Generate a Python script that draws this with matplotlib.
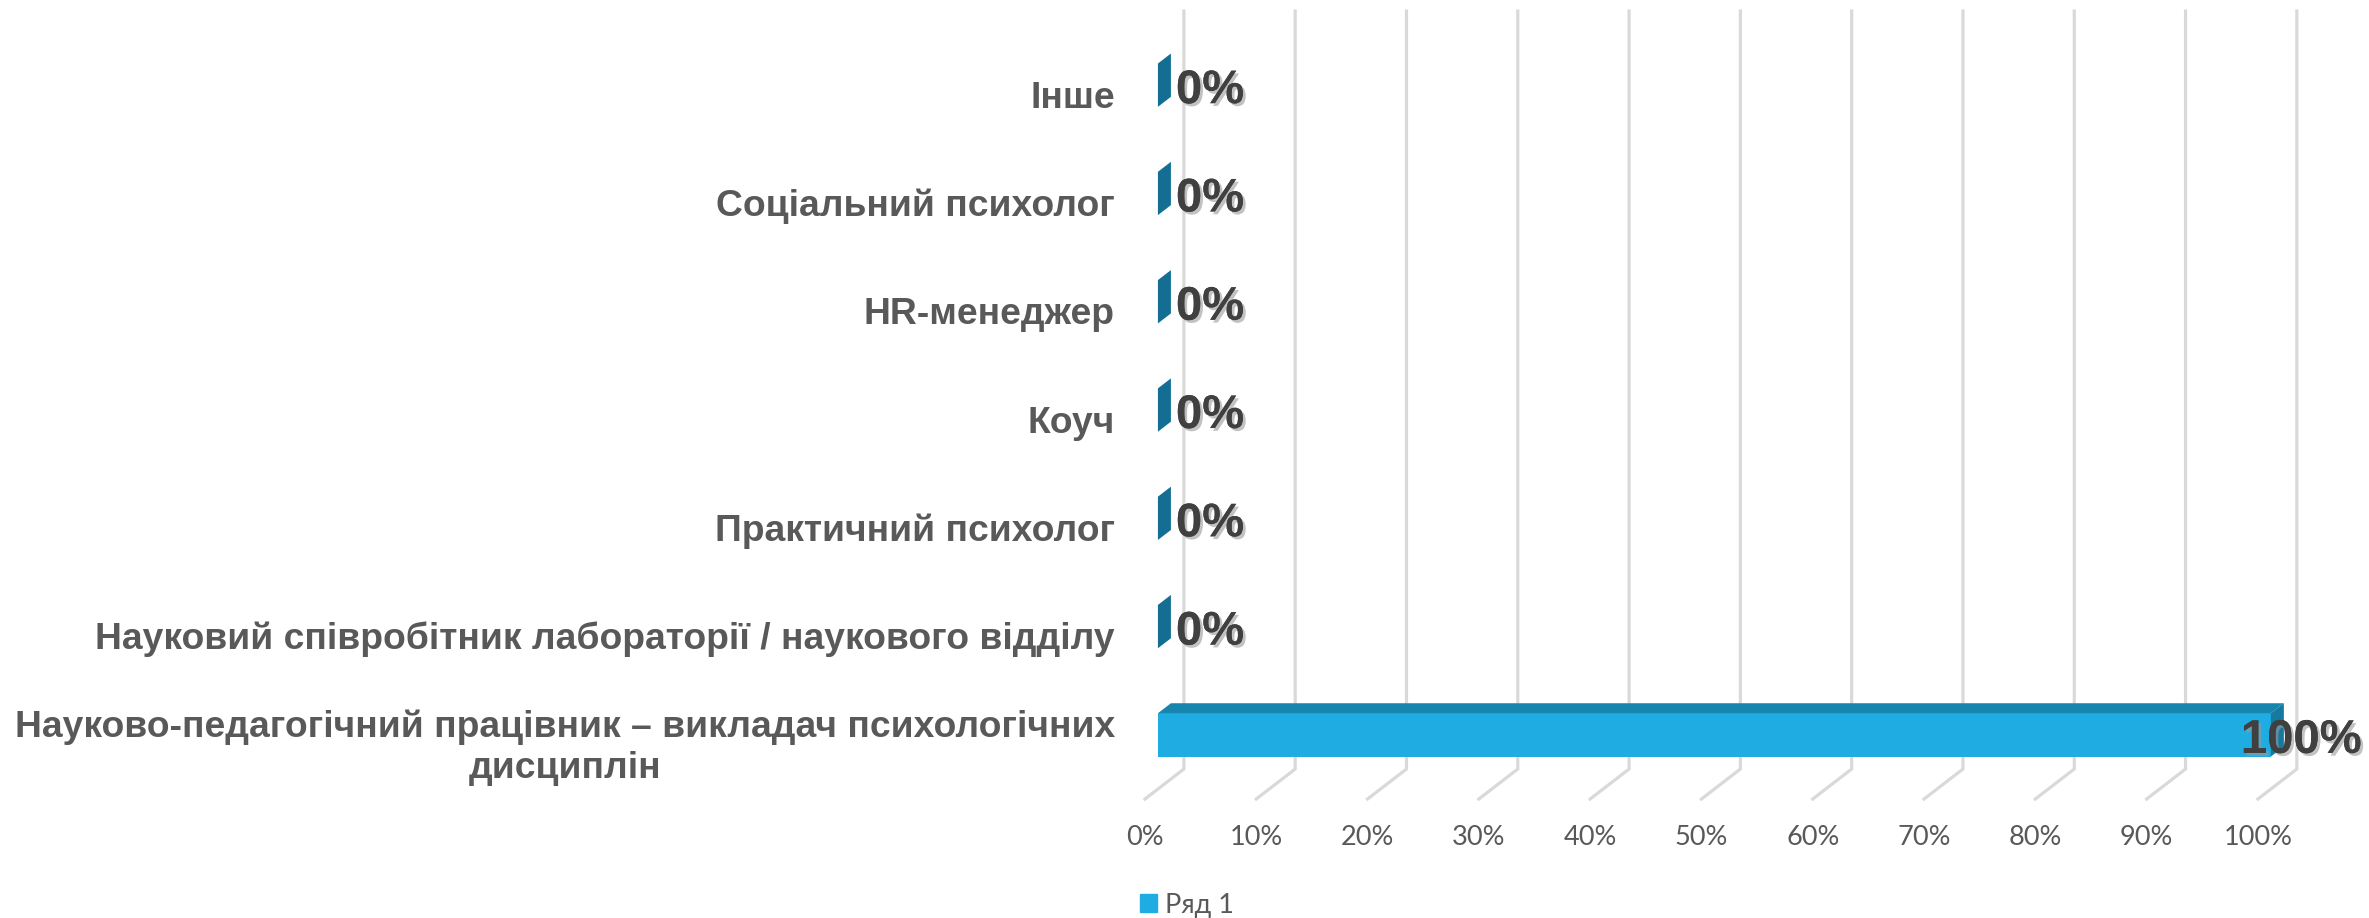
import matplotlib
matplotlib.use("Agg")
import matplotlib.pyplot as plt  # noqa: E402
from matplotlib.patches import Polygon, Patch  # noqa: E402
import matplotlib.patheffects as pe  # noqa: E402

# data (bottom -> top)
categories = [
    "Науково-педагогічний працівник – викладач психологічних\nдисциплін",
    "Науковий співробітник лабораторії / наукового відділу",
    "Практичний психолог",
    "Коуч",
    "HR-менеджер",
    "Соціальний психолог",
    "Інше",
]
values = [100, 0, 0, 0, 0, 0, 0]
ticks = [0, 10, 20, 30, 40, 50, 60, 70, 80, 90, 100]
series_name = "Ряд 1"

FRONT, TOP, SIDE = "#1FACE3", "#1786AE", "#146E93"
GRID = "#D9D9D9"
TXT = "#595959"

# fake 3D: depth z in [0, 1] shifts by (DX, DY) data units
DX, DY = 3.5, 0.277
BAR_H = 0.4
PX = 0.72  # points per pixel at dpi 100


def proj(x, y, z):
    return (x + z * DX, y + z * DY)


fig = plt.figure(figsize=(23.69, 9.18), dpi=100)
ax = fig.add_axes([0.4833, 0.1296, 0.4698, 0.8257])
ax.set_xlim(0, 100)
ax.set_ylim(-0.5, 6.5)
ax.axis("off")

# walls: gridlines on back wall + floor diagonals
y0, y1 = ax.get_ylim()
for t in ticks:
    pts = [proj(t, y0, 0), proj(t, y0, 1), proj(t, y1, 1)]
    ax.plot([p[0] for p in pts], [p[1] for p in pts], color=GRID, lw=2.3,
            solid_joinstyle="miter", clip_on=False, zorder=1)
    ax.annotate(f"{t}%", (t, y0), xytext=(0, -38 * PX), textcoords="offset points",
                ha="center", va="center", fontsize=19.5, color=TXT,
                family=["Lato", "Open Sans", "DejaVu Sans"], annotation_clip=False)

# bars (z from 1/3 to 2/3)
za, zb = 1 / 3, 2 / 3
shadow = [pe.withSimplePatchShadow(offset=(2, -2), shadow_rgbFace="#9a9a9a", alpha=0.6),
          pe.Normal()]
for i, (cat, v) in enumerate(zip(categories, values)):
    yb, yt = i - BAR_H / 2, i + BAR_H / 2
    if v > 0:
        front = [proj(0, yb, za), proj(v, yb, za), proj(v, yt, za), proj(0, yt, za)]
        ax.add_patch(Polygon(front, closed=True, fc=FRONT, ec="none", zorder=3, clip_on=False))
        top = [proj(0, yt, za), proj(v, yt, za), proj(v, yt, zb), proj(0, yt, zb)]
        ax.add_patch(Polygon(top, closed=True, fc=TOP, ec="none", zorder=3, clip_on=False))
    end = [proj(v, yb, za), proj(v, yt, za), proj(v, yt, zb), proj(v, yb, zb)]
    ax.add_patch(Polygon(end, closed=True, fc=SIDE if v == 0 else "#1679A0",
                         ec="none", zorder=3, clip_on=False))

    # data label
    ex, ey = proj(v, i, za)
    off = 18 if v == 0 else -30
    ax.annotate(f"{v}%", (ex, ey), xytext=(off * PX, -18 * PX), textcoords="offset points",
                ha="left", va="baseline", fontsize=34, fontweight="bold", color="#404040",
                family=["Liberation Sans", "DejaVu Sans"],
                annotation_clip=False, path_effects=shadow, zorder=5)

    # category label
    ax.annotate(cat, (0, i), xytext=(-30 * PX, -3 * PX), textcoords="offset points",
                ha="right", va="center", multialignment="center", linespacing=1.22,
                fontsize=26.8, fontweight="bold", color=TXT,
                family=["Liberation Sans", "DejaVu Sans"], annotation_clip=False)

leg = fig.legend(handles=[Patch(color=FRONT, label=series_name)], loc="center",
                 bbox_to_anchor=(0.501, 0.014), frameon=False,
                 handlelength=0.65, handleheight=0.65, handletextpad=0.3,
                 prop={"family": ["Lato", "Open Sans", "DejaVu Sans"], "size": 19.5})
for t in leg.get_texts():
    t.set_color(TXT)

fig.savefig("out.png", dpi=100)
